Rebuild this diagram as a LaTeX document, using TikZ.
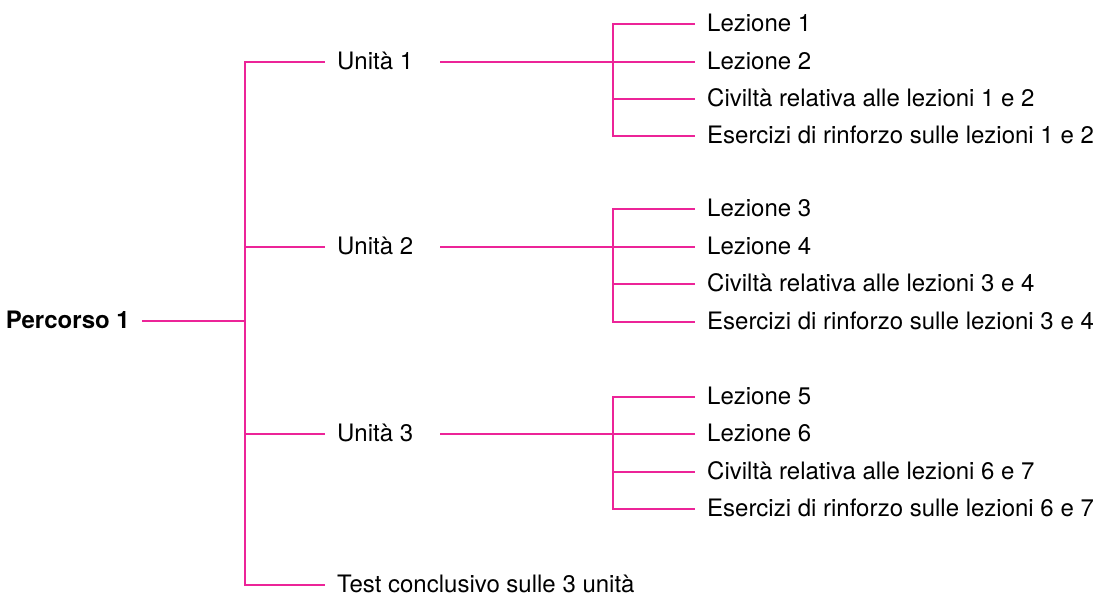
\documentclass[tikz,border=0pt]{standalone}
\usepackage{fontspec}
\setmainfont{TeX Gyre Heros}
\definecolor{rosa}{RGB}{236,36,152}
\begin{document}
\begin{tikzpicture}[x=1pt,y=-1pt,every node/.style={font=\fontsize{24}{28}\selectfont,anchor=west,inner xsep=12pt,inner ysep=0pt,text height=15pt,text depth=0pt},
  ramo/.style={draw=rosa,line width=1.6pt}]
\useasboundingbox (0,0) rectangle (1096,597);
\node[anchor=east,font=\fontsize{24}{28}\selectfont\bfseries] (p1) at (142,321) {Percorso 1};
\node (u1) at (325,62) {Unità 1};
\node (u2) at (325,247) {Unità 2};
\node (u3) at (325,434) {Unità 3};
\node (test) at (325,585) {Test conclusivo sulle 3 unità};
\node (l1) at (695,24) {Lezione 1};
\node (l2) at (695,62) {Lezione 2};
\node (c12) at (695,99) {Civiltà relativa alle lezioni 1 e 2};
\node (e12) at (695,136) {Esercizi di rinforzo sulle lezioni 1 e 2};
\node (l3) at (695,209) {Lezione 3};
\node (l4) at (695,247) {Lezione 4};
\node (c34) at (695,284) {Civiltà relativa alle lezioni 3 e 4};
\node (e34) at (695,322) {Esercizi di rinforzo sulle lezioni 3 e 4};
\node (l5) at (695,397) {Lezione 5};
\node (l6) at (695,434) {Lezione 6};
\node (c67) at (695,472) {Civiltà relativa alle lezioni 6 e 7};
\node (e67) at (695,509) {Esercizi di rinforzo sulle lezioni 6 e 7};
\coordinate (j0) at (245,321);
\coordinate (j1) at (613,62);
\coordinate (j2) at (613,247);
\coordinate (j3) at (613,434);
\draw[ramo] (p1) -- (j0);
\foreach \v in {u1,u2,u3,test}
  \draw[ramo] (j0) |- (\v.west);
\foreach \u/\j in {u1/j1,u2/j2,u3/j3}
  \draw[ramo,shorten <=15pt] (\u.east) -- (\j);
\foreach \j/\v in {j1/l1,j1/l2,j1/c12,j1/e12,j2/l3,j2/l4,j2/c34,j2/e34,j3/l5,j3/l6,j3/c67,j3/e67}
  \draw[ramo] (\j) |- (\v.west);
\end{tikzpicture}
\end{document}
